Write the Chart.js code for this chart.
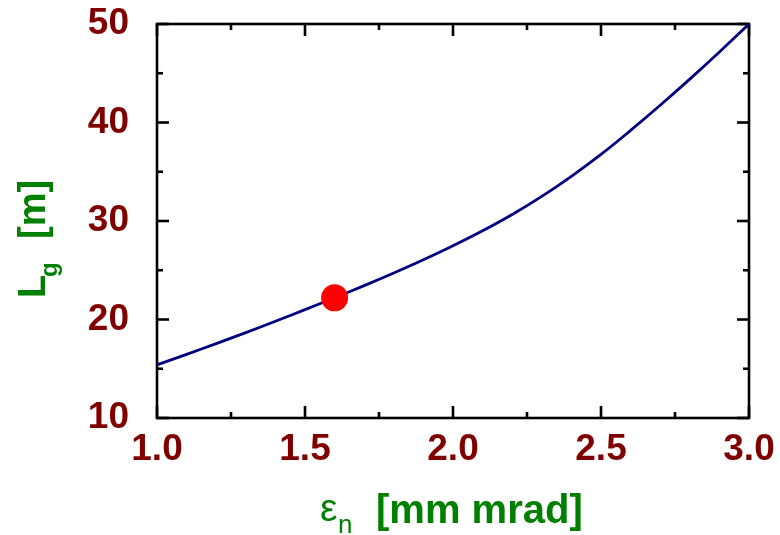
<!DOCTYPE html>
<html>
<head>
<meta charset="utf-8">
<script src="https://cdn.jsdelivr.net/npm/chart.js@4/dist/chart.umd.min.js"></script>
<style>
html,body{margin:0;padding:0;background:#fff;}
#wrap{width:780px;height:535px;position:relative;}
</style>
</head>
<body>
<div id="wrap"><canvas id="c"></canvas></div>
<script>
// normalized emittance [mm mrad]
const emittance = [1.0,1.1,1.2,1.3,1.4,1.5,1.6,1.7,1.8,1.9,2.0,2.1,2.2,2.3,2.4,2.5,2.6,2.7,2.8,2.9,3.0];
// gain length L_g [m]
const gainLength = [15.40,16.46,17.55,18.67,19.82,21.00,22.21,23.44,24.72,26.06,27.48,29.00,30.66,32.50,34.54,36.76,39.20,41.75,44.40,47.15,50.00];
// working point
const pointX = [1.6];
const pointY = [22.2];
// axes
const xMajorTicks = [1.0,1.5,2.0,2.5,3.0];
const xMinorTicks = [1.25,1.75,2.25,2.75];
const yMajorTicks = [10,20,30,40,50];
const yMinorTicks = [15,25,35,45];
const xTitleSymbol = 'ε';
const xTitleSub = 'n';
const xTitleText = '[mm mrad]';
const yTitleSymbol = 'L';
const yTitleSub = 'g';
const yTitleText = '[m]';

const tickColor = '#800000';
const titleColor = '#008000';
const FONT = '"Liberation Sans", Arial, Helvetica, sans-serif';

const framePlugin = {
  id: 'frameTicks',
  beforeDatasetsDraw(chart) {
    const {ctx, chartArea: a, scales: {x, y}} = chart;
    ctx.save();
    ctx.strokeStyle = '#000';
    ctx.lineWidth = 2.6;
    ctx.lineCap = 'butt';
    const seg = (x1, y1, x2, y2) => { ctx.beginPath(); ctx.moveTo(x1, y1); ctx.lineTo(x2, y2); ctx.stroke(); };
    xMajorTicks.forEach(v => { const p = x.getPixelForValue(v); seg(p, a.bottom, p, a.bottom - 12); seg(p, a.top, p, a.top + 12); });
    xMinorTicks.forEach(v => { const p = x.getPixelForValue(v); seg(p, a.bottom, p, a.bottom - 6); seg(p, a.top, p, a.top + 6); });
    yMajorTicks.forEach(v => { const p = y.getPixelForValue(v); seg(a.left, p, a.left + 12, p); seg(a.right, p, a.right - 12, p); });
    yMinorTicks.forEach(v => { const p = y.getPixelForValue(v); seg(a.left, p, a.left + 6, p); seg(a.right, p, a.right - 6, p); });
    ctx.strokeRect(a.left, a.top, a.right - a.left, a.bottom - a.top);
    ctx.restore();
  },
  afterDraw(chart) {
    const {ctx} = chart;
    ctx.save();
    ctx.fillStyle = titleColor;
    ctx.textBaseline = 'alphabetic';
    ctx.textAlign = 'left';
    // x title
    ctx.font = '39px ' + FONT;
    ctx.fillText(xTitleSymbol, 320, 521);
    ctx.font = '26px ' + FONT;
    ctx.fillText(xTitleSub, 338, 533);
    ctx.font = 'bold 40px ' + FONT;
    ctx.fillText(xTitleText, 376, 523);
    // y title (rotated)
    ctx.translate(45, 298);
    ctx.rotate(-Math.PI / 2);
    ctx.font = 'bold 38px ' + FONT;
    ctx.fillText(yTitleSymbol, 0, 0);
    ctx.font = 'bold 24px ' + FONT;
    ctx.fillText(yTitleSub, 21, 12);
    ctx.font = 'bold 38px ' + FONT;
    ctx.fillText(yTitleText, 59, 0);
    ctx.restore();
  }
};

new Chart(document.getElementById('c'), {
  type: 'scatter',
  data: {
    datasets: [
      {
        label: 'L_g',
        data: emittance.map((e, i) => ({x: e, y: gainLength[i]})),
        showLine: true,
        borderColor: '#000080',
        borderWidth: 2.8,
        pointRadius: 0,
        tension: 0.4,
        fill: false,
        order: 2
      },
      {
        label: 'working point',
        data: pointX.map((e, i) => ({x: e, y: pointY[i]})),
        pointRadius: 13.5,
        pointBackgroundColor: '#ff0000',
        pointBorderColor: '#ff0000',
        pointBorderWidth: 0,
        showLine: false,
        order: 1
      }
    ]
  },
  options: {
    responsive: true,
    maintainAspectRatio: false,
    animation: false,
    layout: {padding: {left: 0, right: 31, top: 24, bottom: 0}},
    plugins: {legend: {display: false}, tooltip: {enabled: false}},
    scales: {
      x: {
        type: 'linear',
        min: 1.0, max: 3.0,
        grid: {display: false, drawTicks: false, tickLength: 0},
        border: {display: false},
        afterFit(s) { s.height = 117; s.paddingLeft = 0; s.paddingRight = 0; s.paddingTop = 0; s.paddingBottom = 0; },
        afterBuildTicks(s) { s.ticks = xMajorTicks.map(v => ({value: v})); },
        ticks: {
          color: tickColor,
          padding: 10,
          font: {family: FONT, size: 37, weight: 'bold'},
          maxRotation: 0,
          callback: v => Number(v).toFixed(1)
        }
      },
      y: {
        type: 'linear',
        min: 10, max: 50,
        grid: {display: false, drawTicks: false, tickLength: 0},
        border: {display: false},
        afterFit(s) { s.width = 157; s.paddingLeft = 0; s.paddingRight = 0; s.paddingTop = 0; s.paddingBottom = 0; },
        afterBuildTicks(s) { s.ticks = yMajorTicks.map(v => ({value: v})); },
        ticks: {
          color: tickColor,
          padding: 28,
          font: {family: FONT, size: 37, weight: 'bold'},
          callback: v => String(v)
        }
      }
    }
  },
  plugins: [framePlugin]
});
</script>
</body>
</html>
